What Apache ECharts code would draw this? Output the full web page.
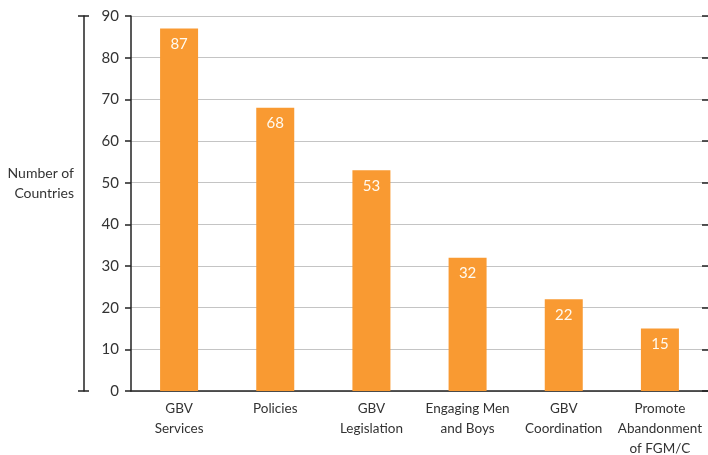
<!DOCTYPE html>
<html><head><meta charset="utf-8">
<script src="https://cdn.jsdelivr.net/npm/echarts@6/dist/echarts.min.js"></script>
<style>html,body{margin:0;padding:0;background:#fff}#c{width:708px;height:455px}</style>
</head><body><div id="c"></div>
<script>
const categories = ['GBV\nServices', 'Policies', 'GBV\nLegislation', 'Engaging Men\nand Boys', 'GBV\nCoordination', 'Promote\nAbandonment\nof FGM/C'];
const values = [87, 68, 53, 32, 22, 15];
const yTicks = { min: 0, max: 90, interval: 10 };
const axisName = 'Number of\nCountries';

const font = 'Lato, "Open Sans", sans-serif';
const lineCol = '#222';
const chart = echarts.init(document.getElementById('c'));
chart.setOption({
  animation: false,
  grid: { left: 131, right: 0, top: 16, bottom: 64, outerBoundsMode: 'none', containLabel: false },
  xAxis: {
    type: 'category', data: categories,
    axisLine: { lineStyle: { color: lineCol, width: 1.5 } },
    axisTick: { show: false },
    axisLabel: { color: '#333', fontSize: 13.5, fontFamily: font, lineHeight: 20, margin: 8, interval: 0 }
  },
  yAxis: [
    { type: 'value', min: yTicks.min, max: yTicks.max, interval: yTicks.interval,
      axisLine: { show: true, lineStyle: { color: lineCol, width: 1.5 } },
      axisTick: { show: true, length: 6, lineStyle: { color: lineCol, width: 1.5 } },
      axisLabel: { color: '#333', fontSize: 15, fontFamily: font, margin: 12 },
      splitLine: { lineStyle: { color: '#c4c4c4', width: 1.2 } } },
    { type: 'value', min: yTicks.min, max: yTicks.max, interval: yTicks.interval,
      axisLine: { show: false },
      axisTick: { show: true, inside: true, length: 6, lineStyle: { color: lineCol, width: 1.5 } },
      axisLabel: { show: false }, splitLine: { show: false } },
    { type: 'value', position: 'left', offset: 47, min: yTicks.min, max: yTicks.max, interval: yTicks.max,
      axisLine: { show: true, lineStyle: { color: lineCol, width: 1.5 } },
      axisTick: { show: true, length: 6, lineStyle: { color: lineCol, width: 1.5 } },
      axisLabel: { show: false }, splitLine: { show: false },
      name: axisName, nameLocation: 'middle', nameRotate: 0, nameGap: 10,
      nameTextStyle: { color: '#333', fontSize: 14, fontFamily: font, lineHeight: 20, align: 'right', verticalAlign: 'bottom' } },
    { type: 'value', position: 'left', offset: 47, min: yTicks.min, max: yTicks.max, interval: yTicks.max,
      axisLine: { show: false },
      axisTick: { show: true, inside: true, length: 5, lineStyle: { color: lineCol, width: 1.5 } },
      axisLabel: { show: false }, splitLine: { show: false } }
  ],
  series: [{
    type: 'bar', data: values, yAxisIndex: 0, barWidth: 38,
    itemStyle: { color: '#F99A32' },
    label: { show: true, position: 'insideTop', distance: 8, color: '#fffaf0', fontSize: 15, fontFamily: font }
  }]
});
</script></body></html>
